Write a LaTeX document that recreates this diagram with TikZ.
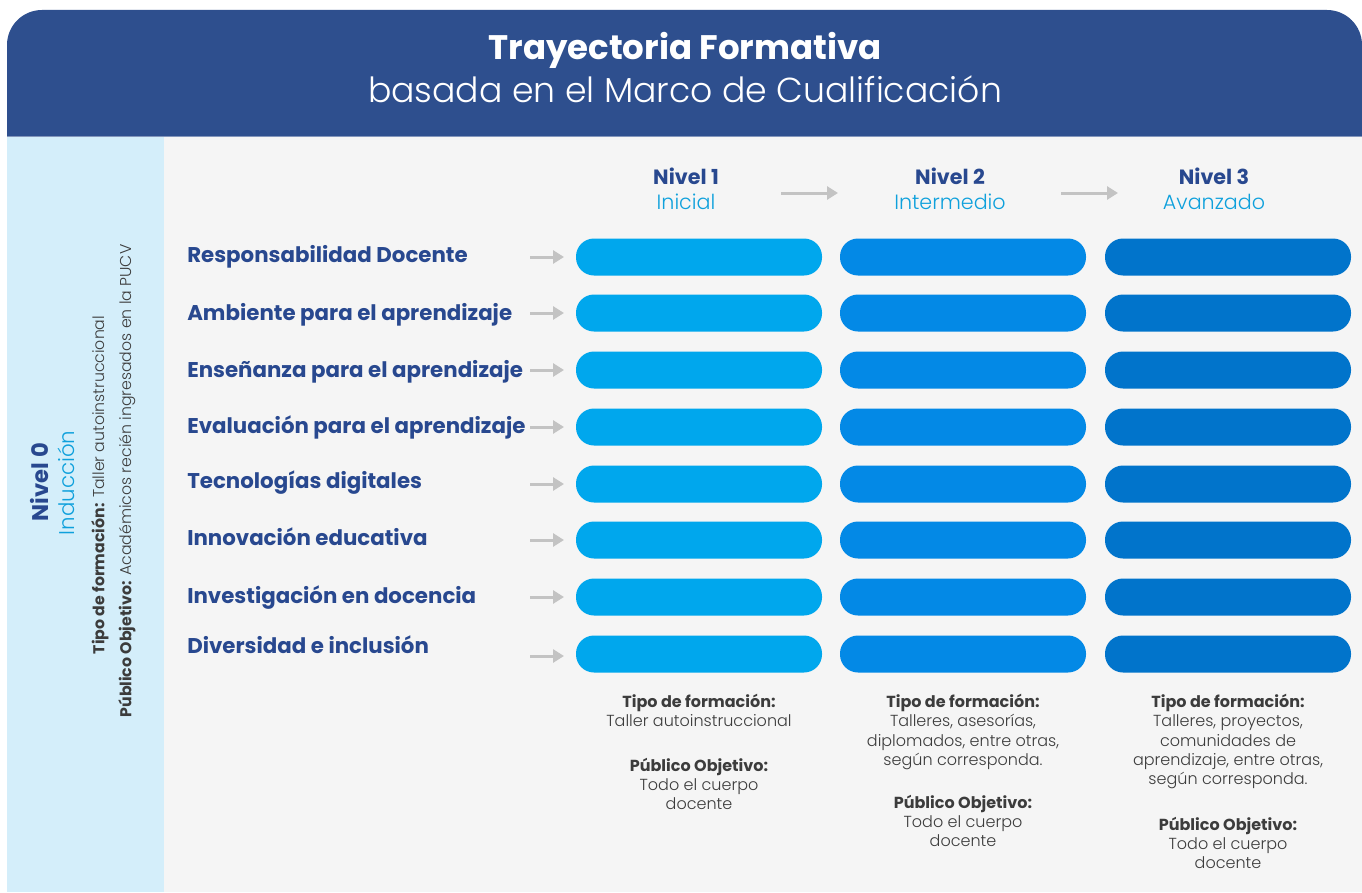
\documentclass[tikz,border=0pt]{standalone}
\usepackage{fontspec}
\setmainfont{Poppins}
\newfontfamily\plight{Poppins}[UprightFont={* Light},BoldFont={* SemiBold}]
\usetikzlibrary{arrows.meta}
\definecolor{hdr}{HTML}{2E4F8E}
\definecolor{side}{HTML}{D4EEFA}
\definecolor{bgc}{HTML}{F5F5F5}
\definecolor{cA}{HTML}{00A7ED}
\definecolor{cB}{HTML}{0389E6}
\definecolor{cC}{HTML}{0174CB}
\definecolor{navy}{HTML}{28488F}
\definecolor{cyanT}{HTML}{0EA0DC}
\definecolor{garr}{HTML}{C3C3C3}
\definecolor{txt}{HTML}{3C3C3C}
\tikzset{
  bar/.style={rectangle, rounded corners=13.5pt, minimum width=184.5pt, minimum height=27.75pt, inner sep=0pt},
  rowlabel/.style={anchor=base west, inner sep=0pt, text=navy, font=\bfseries\fontsize{16}{18}\selectfont},
  garrow/.style={draw=garr, line width=2.25pt, -{Triangle[length=8.25pt,width=9.75pt]}},
  lvl/.style={align=center, inner sep=0pt, font=\fontsize{15.5}{19}\selectfont},
  info/.style={align=center, anchor=north, inner sep=0pt, text=txt, font=\fontsize{12}{14.4}\selectfont},
  sidetxt/.style={rotate=90, inner sep=0pt, text=txt, font=\fontsize{11.8}{13}\selectfont}
}
\begin{document}
\begin{tikzpicture}[x=0.75pt,y=-0.75pt]
\useasboundingbox (0,0) rectangle (1362,892);
\fill[white] (0,0) rectangle (1362,892);
% body
\fill[bgc] (164,136) rectangle (1362,892);
\fill[side] (7,136) rectangle (164,892);
% header
\fill[hdr] (7,136) [rounded corners=26.25pt] -- (7,10) -- (1362,10) [sharp corners] -- (1362,136) -- cycle;
\draw[color=hdr!60!white, line width=0.75pt] (7,136) -- (1362,136);
\node[text=white, anchor=base, inner sep=0pt, font=\bfseries\fontsize{25.5}{30}\selectfont] (title) at (685,60) {Trayectoria Formativa};
\node[text=white, anchor=base, inner sep=0pt, font=\plight\fontsize{26}{30}\selectfont] (subtitle) at (685,102) {basada en el Marco de Cualificación};

% sidebar
\node[rotate=90, inner sep=0pt, text=navy, font=\bfseries\fontsize{17}{18}\selectfont] (n0) at (40,482) {Nivel 0};
\node[rotate=90, inner sep=0pt, text=cyanT, font=\plight\fontsize{16}{18}\selectfont] (ind) at (66,483) {Inducción};
\node[sidetxt] (s1) at (100,485) {\textbf{Tipo de formación:} {\plight Taller autoinstruccional}};
\node[sidetxt] (s2) at (127,481) {\textbf{Público Objetivo:} {\plight Académicos recién ingresados en la PUCV}};

% level headers
\node[lvl] (h1) at (686,189) {\textcolor{navy}{\bfseries Nivel 1}\\\textcolor{cyanT}{\plight Inicial}};
\node[lvl] (h2) at (950,189) {\textcolor{navy}{\bfseries Nivel 2}\\\textcolor{cyanT}{\plight Intermedio}};
\node[lvl] (h3) at (1214,189) {\textcolor{navy}{\bfseries Nivel 3}\\\textcolor{cyanT}{\plight Avanzado}};
\coordinate (ha1) at (781,193);
\coordinate (ha2) at (1061,193);
\coordinate (hb1) at (838,193);
\coordinate (hb2) at (1118,193);
\draw[garrow] (ha1) -- (hb1);
\draw[garrow] (ha2) -- (hb2);

% rows
\foreach \i/\by/\ly/\ay/\lab in {
  1/257/255/257/{Responsabilidad Docente},
  2/313/313/313/{Ambiente para el aprendizaje},
  3/370/370/370/{Enseñanza para el aprendizaje},
  4/427/426/427/{Evaluación para el aprendizaje},
  5/484/481/484/{Tecnologías digitales},
  6/540/538/540/{Innovación educativa},
  7/597/596/597/{Investigación en docencia},
  8/654/646/656/{Diversidad e inclusión}} {
  \node[rowlabel] (l\i) at (187,\ly+7) {\lab};
  \node[bar, fill=cA] (a\i) at (699,\by) {};
  \node[bar, fill=cB] (b\i) at (963,\by) {};
  \node[bar, fill=cC] (c\i) at (1228,\by) {};
  \coordinate (s\i) at (530,\ay);
  \coordinate (e\i) at (564,\ay);
  \draw[garrow] (s\i) -- (e\i);
}

% bottom info
\node[info] (i1) at (699,694) {\textbf{Tipo de formación:}\\ {\plight Taller autoinstruccional}\\[19pt]\textbf{Público Objetivo:}\\ {\plight Todo el cuerpo}\\ {\plight docente}};
\node[info] (i2) at (963,694) {\textbf{Tipo de formación:}\\ {\plight Talleres, asesorías,}\\ {\plight diplomados, entre otras,}\\ {\plight según corresponda.}\\[18pt]\textbf{Público Objetivo:}\\ {\plight Todo el cuerpo}\\ {\plight docente}};
\node[info] (i3) at (1228,694) {\textbf{Tipo de formación:}\\ {\plight Talleres, proyectos,}\\ {\plight comunidades de}\\ {\plight aprendizaje, entre otras,}\\ {\plight según corresponda.}\\[20pt]\textbf{Público Objetivo:}\\ {\plight Todo el cuerpo}\\ {\plight docente}};
\end{tikzpicture}
\end{document}
